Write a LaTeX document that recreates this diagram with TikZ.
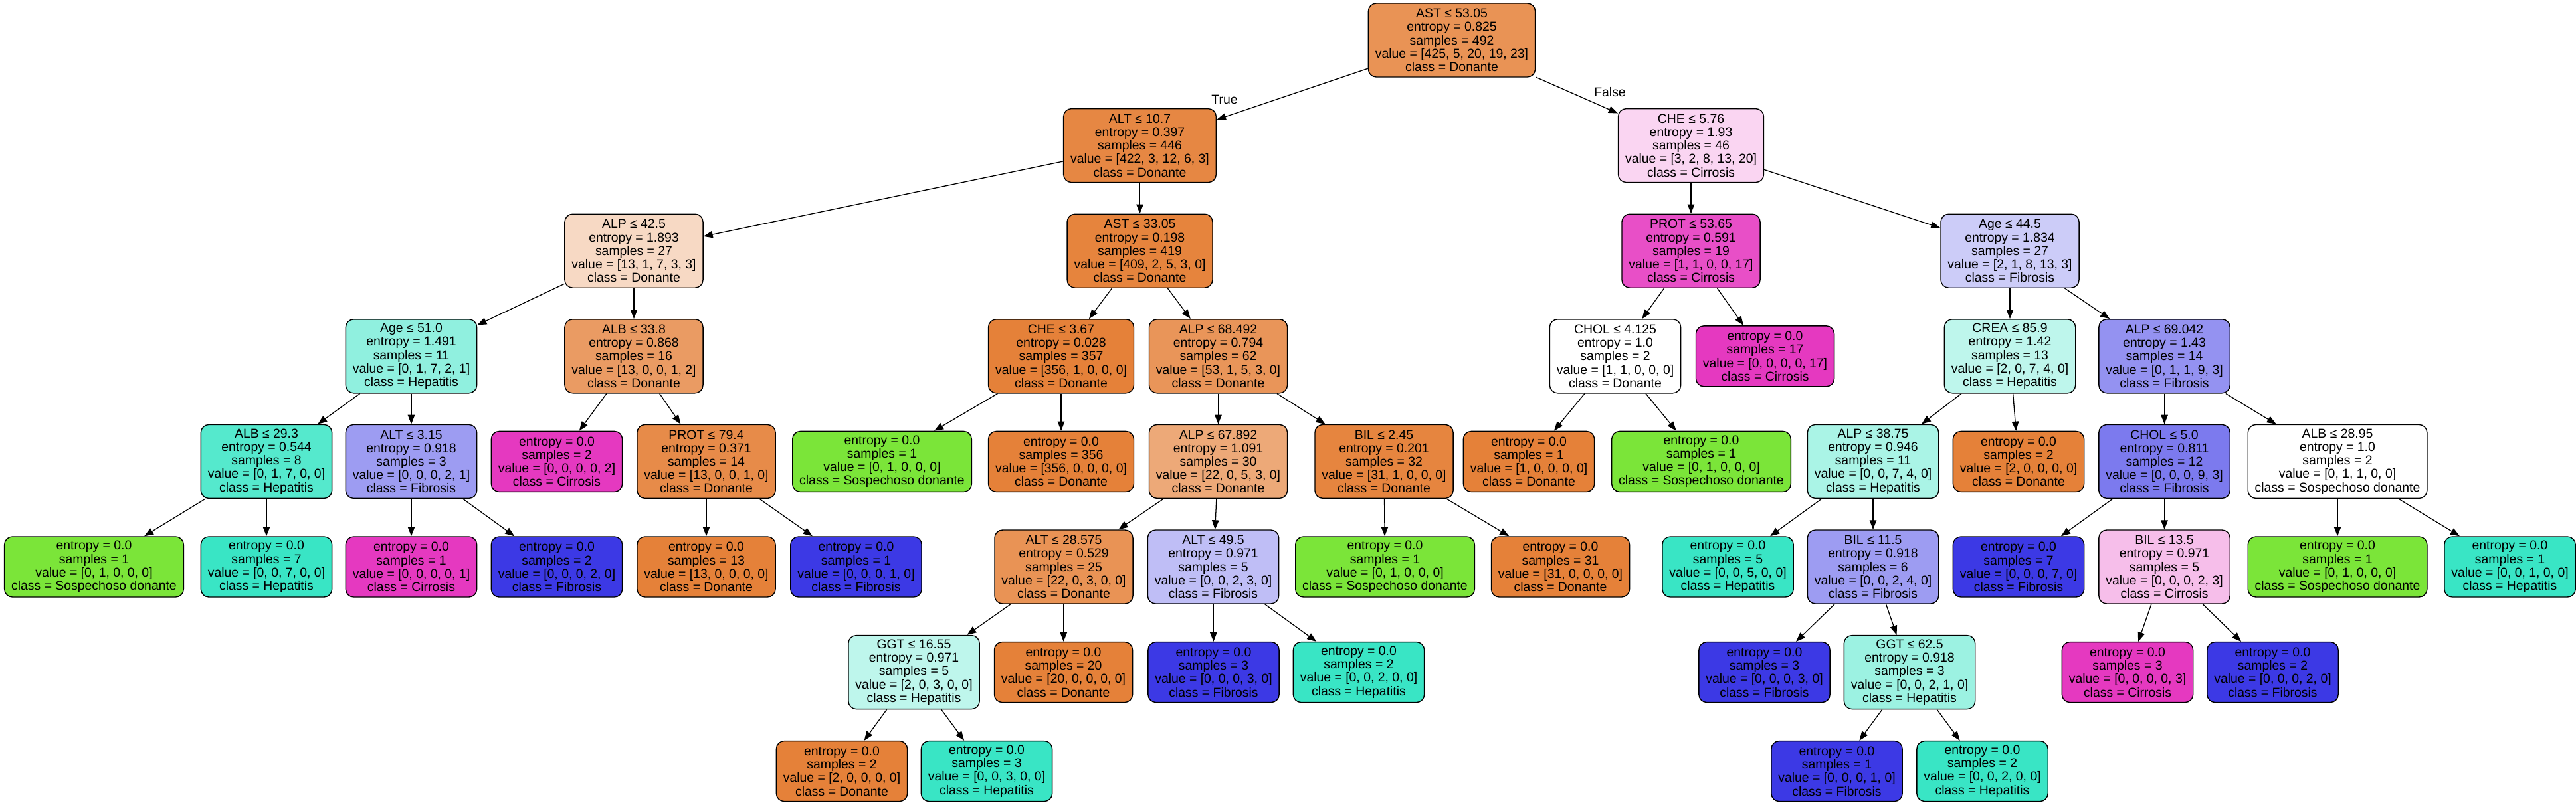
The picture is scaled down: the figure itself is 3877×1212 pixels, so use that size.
\documentclass[tikz,border=0pt]{standalone}
\usepackage{fontspec}
\setmainfont{Liberation Sans}
\usepackage{xcolor}
\usepackage{tikz}
\usetikzlibrary{arrows.meta}

\definecolor{cdon}{HTML}{E58139}
\definecolor{csos}{HTML}{7BE539}
\definecolor{chep}{HTML}{39E5C5}
\definecolor{cfib}{HTML}{3C39E5}
\definecolor{ccir}{HTML}{E539C0}

\begin{document}
\begin{tikzpicture}[
  x=1pt, y=-1pt,
  font=\fontsize{19.4}{20.2}\selectfont,
  split/.style={draw, line width=1.4pt, rounded corners=12pt, align=center,
    minimum height=111pt, inner xsep=10.5pt, inner ysep=0pt},
  leaf/.style={split, minimum height=91pt},
  edge/.style={-{Triangle[length=14pt, width=10.5pt]}, line width=1.3pt},
]
  \useasboundingbox (0,0) rectangle (3877,1212);

  % Level 0
  \node[split, fill=cdon!86] (ast5305) at (2185,60.5)
    {AST ≤ 53.05\\entropy = 0.825\\samples = 492\\value = [425, 5, 20, 19, 23]\\class = Donante};

  % Level 1
  \node[split, fill=cdon!95] (alt107) at (1715.5,219.1)
    {ALT ≤ 10.7\\entropy = 0.397\\samples = 446\\value = [422, 3, 12, 6, 3]\\class = Donante};
  \node[split, fill=ccir!21] (che576) at (2545,219.1)
    {CHE ≤ 5.76\\entropy = 1.93\\samples = 46\\value = [3, 2, 8, 13, 20]\\class = Cirrosis};

  % Level 2
  \node[split, fill=cdon!30] (alp425) at (954,377.7)
    {ALP ≤ 42.5\\entropy = 1.893\\samples = 27\\value = [13, 1, 7, 3, 3]\\class = Donante};
  \node[split, fill=cdon!98] (ast3305) at (1715.5,377.7)
    {AST ≤ 33.05\\entropy = 0.198\\samples = 419\\value = [409, 2, 5, 3, 0]\\class = Donante};
  \node[split, fill=ccir!89] (prot5365) at (2545,377.7)
    {PROT ≤ 53.65\\entropy = 0.591\\samples = 19\\value = [1, 1, 0, 0, 17]\\class = Cirrosis};
  \node[split, fill=cfib!26] (age445) at (3025,377.7)
    {Age ≤ 44.5\\entropy = 1.834\\samples = 27\\value = [2, 1, 8, 13, 3]\\class = Fibrosis};

  % Level 3
  \node[split, fill=chep!56] (age510) at (619,536.3)
    {Age ≤ 51.0\\entropy = 1.491\\samples = 11\\value = [0, 1, 7, 2, 1]\\class = Hepatitis};
  \node[split, fill=cdon!79] (alb338) at (954,536.3)
    {ALB ≤ 33.8\\entropy = 0.868\\samples = 16\\value = [13, 0, 0, 1, 2]\\class = Donante};
  \node[split, fill=cdon] (che367) at (1597,536.3)
    {CHE ≤ 3.67\\entropy = 0.028\\samples = 357\\value = [356, 1, 0, 0, 0]\\class = Donante};
  \node[split, fill=cdon!84] (alp68492) at (1833.5,536.3)
    {ALP ≤ 68.492\\entropy = 0.794\\samples = 62\\value = [53, 1, 5, 3, 0]\\class = Donante};
  \node[split, fill=white] (chol4125) at (2431,536.3)
    {CHOL ≤ 4.125\\entropy = 1.0\\samples = 2\\value = [1, 1, 0, 0, 0]\\class = Donante};
  \node[leaf, fill=ccir] (lf1) at (2656.5,536.3)
    {entropy = 0.0\\samples = 17\\value = [0, 0, 0, 0, 17]\\class = Cirrosis};
  \node[split, fill=chep!33] (crea859) at (3025,536.3)
    {CREA ≤ 85.9\\entropy = 1.42\\samples = 13\\value = [2, 0, 7, 4, 0]\\class = Hepatitis};
  \node[split, fill=cfib!55] (alp69042) at (3257.5,536.3)
    {ALP ≤ 69.042\\entropy = 1.43\\samples = 14\\value = [0, 1, 1, 9, 3]\\class = Fibrosis};

  % Level 4
  \node[split, fill=chep!86] (alb293) at (401,694.9)
    {ALB ≤ 29.3\\entropy = 0.544\\samples = 8\\value = [0, 1, 7, 0, 0]\\class = Hepatitis};
  \node[split, fill=cfib!50] (alt315) at (619,694.9)
    {ALT ≤ 3.15\\entropy = 0.918\\samples = 3\\value = [0, 0, 0, 2, 1]\\class = Fibrosis};
  \node[leaf, fill=ccir] (lf2) at (838,694.9)
    {entropy = 0.0\\samples = 2\\value = [0, 0, 0, 0, 2]\\class = Cirrosis};
  \node[split, fill=cdon!92] (prot794) at (1063,694.9)
    {PROT ≤ 79.4\\entropy = 0.371\\samples = 14\\value = [13, 0, 0, 1, 0]\\class = Donante};
  \node[leaf, fill=csos] (lf3) at (1327.5,694.9)
    {entropy = 0.0\\samples = 1\\value = [0, 1, 0, 0, 0]\\class = Sospechoso donante};
  \node[leaf, fill=cdon] (lf4) at (1597,694.9)
    {entropy = 0.0\\samples = 356\\value = [356, 0, 0, 0, 0]\\class = Donante};
  \node[split, fill=cdon!68] (alp67892) at (1833.5,694.9)
    {ALP ≤ 67.892\\entropy = 1.091\\samples = 30\\value = [22, 0, 5, 3, 0]\\class = Donante};
  \node[split, fill=cdon!97] (bil245) at (2083,694.9)
    {BIL ≤ 2.45\\entropy = 0.201\\samples = 32\\value = [31, 1, 0, 0, 0]\\class = Donante};
  \node[leaf, fill=cdon] (lf5) at (2301,694.9)
    {entropy = 0.0\\samples = 1\\value = [1, 0, 0, 0, 0]\\class = Donante};
  \node[leaf, fill=csos] (lf6) at (2560.5,694.9)
    {entropy = 0.0\\samples = 1\\value = [0, 1, 0, 0, 0]\\class = Sospechoso donante};
  \node[split, fill=chep!43] (alp3875) at (2819,694.9)
    {ALP ≤ 38.75\\entropy = 0.946\\samples = 11\\value = [0, 0, 7, 4, 0]\\class = Hepatitis};
  \node[leaf, fill=cdon] (lf7) at (3038,694.9)
    {entropy = 0.0\\samples = 2\\value = [2, 0, 0, 0, 0]\\class = Donante};
  \node[split, fill=cfib!67] (chol50) at (3257.5,694.9)
    {CHOL ≤ 5.0\\entropy = 0.811\\samples = 12\\value = [0, 0, 0, 9, 3]\\class = Fibrosis};
  \node[split, fill=white] (alb2895) at (3518,694.9)
    {ALB ≤ 28.95\\entropy = 1.0\\samples = 2\\value = [0, 1, 1, 0, 0]\\class = Sospechoso donante};

  % Level 5
  \node[leaf, fill=csos] (lf8) at (141.5,853.5)
    {entropy = 0.0\\samples = 1\\value = [0, 1, 0, 0, 0]\\class = Sospechoso donante};
  \node[leaf, fill=chep] (lf9) at (401,853.5)
    {entropy = 0.0\\samples = 7\\value = [0, 0, 7, 0, 0]\\class = Hepatitis};
  \node[leaf, fill=ccir] (lf10) at (619,853.5)
    {entropy = 0.0\\samples = 1\\value = [0, 0, 0, 0, 1]\\class = Cirrosis};
  \node[leaf, fill=cfib] (lf11) at (838,853.5)
    {entropy = 0.0\\samples = 2\\value = [0, 0, 0, 2, 0]\\class = Fibrosis};
  \node[leaf, fill=cdon] (lf12) at (1063,853.5)
    {entropy = 0.0\\samples = 13\\value = [13, 0, 0, 0, 0]\\class = Donante};
  \node[leaf, fill=cfib] (lf13) at (1288.5,853.5)
    {entropy = 0.0\\samples = 1\\value = [0, 0, 0, 1, 0]\\class = Fibrosis};
  \node[split, fill=cdon!86] (alt28575) at (1601,853.5)
    {ALT ≤ 28.575\\entropy = 0.529\\samples = 25\\value = [22, 0, 3, 0, 0]\\class = Donante};
  \node[split, fill=cfib!33] (alt495) at (1826,853.5)
    {ALT ≤ 49.5\\entropy = 0.971\\samples = 5\\value = [0, 0, 2, 3, 0]\\class = Fibrosis};
  \node[leaf, fill=csos] (lf14) at (2084.5,853.5)
    {entropy = 0.0\\samples = 1\\value = [0, 1, 0, 0, 0]\\class = Sospechoso donante};
  \node[leaf, fill=cdon] (lf15) at (2348.5,853.5)
    {entropy = 0.0\\samples = 31\\value = [31, 0, 0, 0, 0]\\class = Donante};
  \node[leaf, fill=chep] (lf16) at (2600.5,853.5)
    {entropy = 0.0\\samples = 5\\value = [0, 0, 5, 0, 0]\\class = Hepatitis};
  \node[split, fill=cfib!50] (bil115) at (2819,853.5)
    {BIL ≤ 11.5\\entropy = 0.918\\samples = 6\\value = [0, 0, 2, 4, 0]\\class = Fibrosis};
  \node[leaf, fill=cfib] (lf17) at (3038,853.5)
    {entropy = 0.0\\samples = 7\\value = [0, 0, 0, 7, 0]\\class = Fibrosis};
  \node[split, fill=ccir!33] (bil135) at (3257.5,853.5)
    {BIL ≤ 13.5\\entropy = 0.971\\samples = 5\\value = [0, 0, 0, 2, 3]\\class = Cirrosis};
  \node[leaf, fill=csos] (lf18) at (3518,853.5)
    {entropy = 0.0\\samples = 1\\value = [0, 1, 0, 0, 0]\\class = Sospechoso donante};
  \node[leaf, fill=chep] (lf19) at (3777.5,853.5)
    {entropy = 0.0\\samples = 1\\value = [0, 0, 1, 0, 0]\\class = Hepatitis};

  % Level 6
  \node[split, fill=chep!33] (ggt1655) at (1375.5,1012.1)
    {GGT ≤ 16.55\\entropy = 0.971\\samples = 5\\value = [2, 0, 3, 0, 0]\\class = Hepatitis};
  \node[leaf, fill=cdon] (lf20) at (1600.5,1012.1)
    {entropy = 0.0\\samples = 20\\value = [20, 0, 0, 0, 0]\\class = Donante};
  \node[leaf, fill=cfib] (lf21) at (1826.5,1012.1)
    {entropy = 0.0\\samples = 3\\value = [0, 0, 0, 3, 0]\\class = Fibrosis};
  \node[leaf, fill=chep] (lf22) at (2045,1012.1)
    {entropy = 0.0\\samples = 2\\value = [0, 0, 2, 0, 0]\\class = Hepatitis};
  \node[leaf, fill=cfib] (lf23) at (2655.5,1012.1)
    {entropy = 0.0\\samples = 3\\value = [0, 0, 0, 3, 0]\\class = Fibrosis};
  \node[split, fill=chep!50] (ggt625) at (2874,1012.1)
    {GGT ≤ 62.5\\entropy = 0.918\\samples = 3\\value = [0, 0, 2, 1, 0]\\class = Hepatitis};
  \node[leaf, fill=ccir] (lf24) at (3202,1012.1)
    {entropy = 0.0\\samples = 3\\value = [0, 0, 0, 0, 3]\\class = Cirrosis};
  \node[leaf, fill=cfib] (lf25) at (3420.5,1012.1)
    {entropy = 0.0\\samples = 2\\value = [0, 0, 0, 2, 0]\\class = Fibrosis};

  % Level 7
  \node[leaf, fill=cdon] (lf26) at (1267,1161.1)
    {entropy = 0.0\\samples = 2\\value = [2, 0, 0, 0, 0]\\class = Donante};
  \node[leaf, fill=chep] (lf27) at (1485,1161.1)
    {entropy = 0.0\\samples = 3\\value = [0, 0, 3, 0, 0]\\class = Hepatitis};
  \node[leaf, fill=cfib] (lf28) at (2764.5,1161.1)
    {entropy = 0.0\\samples = 1\\value = [0, 0, 0, 1, 0]\\class = Fibrosis};
  \node[leaf, fill=chep] (lf29) at (2983.5,1161.1)
    {entropy = 0.0\\samples = 2\\value = [0, 0, 2, 0, 0]\\class = Hepatitis};

  % Branch labels
  \node (true) at (1843,150) {True};
  \node (false) at (2423,139) {False};

  % Edges
  \draw[edge] (ast5305) -- (alt107);
  \draw[edge] (ast5305) -- (che576);
  \draw[edge] (alt107) -- (alp425);
  \draw[edge] (alt107) -- (ast3305);
  \draw[edge] (alp425) -- (age510);
  \draw[edge] (alp425) -- (alb338);
  \draw[edge] (age510) -- (alb293);
  \draw[edge] (age510) -- (alt315);
  \draw[edge] (alb293) -- (lf8);
  \draw[edge] (alb293) -- (lf9);
  \draw[edge] (alt315) -- (lf10);
  \draw[edge] (alt315) -- (lf11);
  \draw[edge] (alb338) -- (lf2);
  \draw[edge] (alb338) -- (prot794);
  \draw[edge] (prot794) -- (lf12);
  \draw[edge] (prot794) -- (lf13);
  \draw[edge] (ast3305) -- (che367);
  \draw[edge] (ast3305) -- (alp68492);
  \draw[edge] (che367) -- (lf3);
  \draw[edge] (che367) -- (lf4);
  \draw[edge] (alp68492) -- (alp67892);
  \draw[edge] (alp68492) -- (bil245);
  \draw[edge] (alp67892) -- (alt28575);
  \draw[edge] (alp67892) -- (alt495);
  \draw[edge] (alt28575) -- (ggt1655);
  \draw[edge] (alt28575) -- (lf20);
  \draw[edge] (ggt1655) -- (lf26);
  \draw[edge] (ggt1655) -- (lf27);
  \draw[edge] (alt495) -- (lf21);
  \draw[edge] (alt495) -- (lf22);
  \draw[edge] (bil245) -- (lf14);
  \draw[edge] (bil245) -- (lf15);
  \draw[edge] (che576) -- (prot5365);
  \draw[edge] (che576) -- (age445);
  \draw[edge] (prot5365) -- (chol4125);
  \draw[edge] (prot5365) -- (lf1);
  \draw[edge] (chol4125) -- (lf5);
  \draw[edge] (chol4125) -- (lf6);
  \draw[edge] (age445) -- (crea859);
  \draw[edge] (age445) -- (alp69042);
  \draw[edge] (crea859) -- (alp3875);
  \draw[edge] (crea859) -- (lf7);
  \draw[edge] (alp3875) -- (lf16);
  \draw[edge] (alp3875) -- (bil115);
  \draw[edge] (bil115) -- (lf23);
  \draw[edge] (bil115) -- (ggt625);
  \draw[edge] (ggt625) -- (lf28);
  \draw[edge] (ggt625) -- (lf29);
  \draw[edge] (alp69042) -- (chol50);
  \draw[edge] (alp69042) -- (alb2895);
  \draw[edge] (chol50) -- (lf17);
  \draw[edge] (chol50) -- (bil135);
  \draw[edge] (bil135) -- (lf24);
  \draw[edge] (bil135) -- (lf25);
  \draw[edge] (alb2895) -- (lf18);
  \draw[edge] (alb2895) -- (lf19);
\end{tikzpicture}
\end{document}
